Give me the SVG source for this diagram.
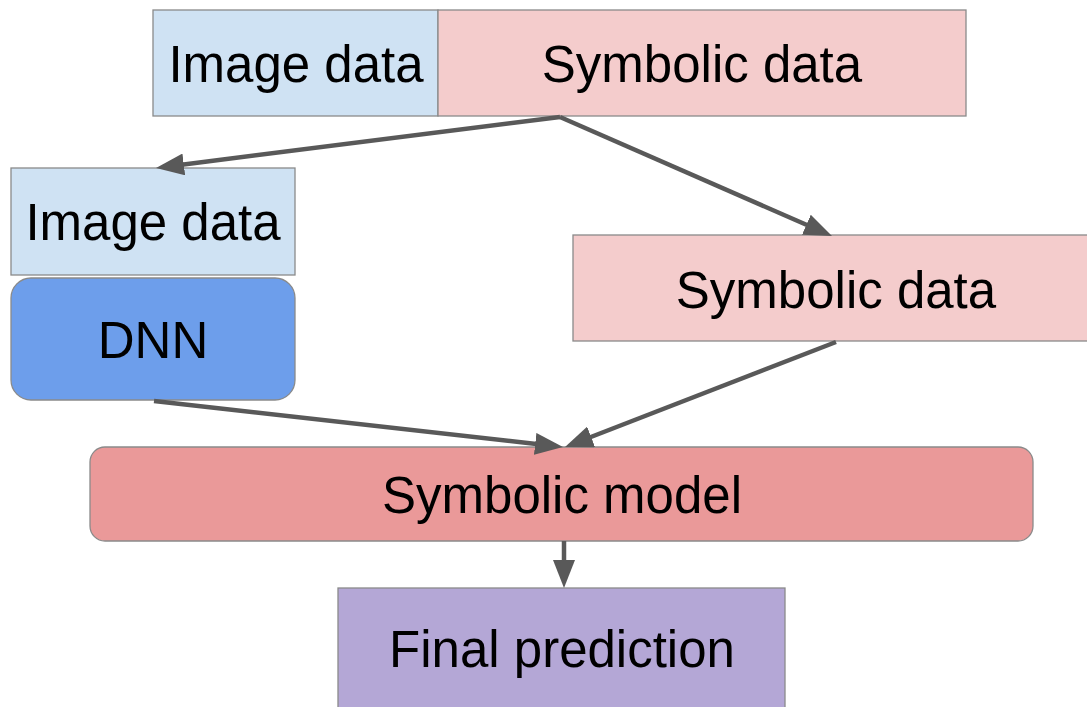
<svg xmlns="http://www.w3.org/2000/svg" width="1087" height="707" viewBox="0 0 1087 707">
  <style>
    .box { stroke: #8a8a8a; stroke-width: 1.3; }
    .img { fill: #cfe2f3; }
    .sym { fill: #f4cccc; }
    .dnn { fill: #6d9eeb; }
    .model { fill: #ea9999; }
    .final { fill: #b4a7d6; }
    .label { font-family: "Liberation Sans", Arial, sans-serif; font-size: 51px; fill: #000; text-anchor: middle; }
    .conn { stroke: #595959; stroke-width: 4.5; fill: none; marker-end: url(#arrow); }
  </style>
  <defs>
    <marker id="arrow" markerUnits="userSpaceOnUse" markerWidth="28" markerHeight="22" refX="10" refY="11" orient="auto">
      <path d="M0,0 L28,11 L0,22 z" fill="#595959"/>
    </marker>
  </defs>
  <rect width="1087" height="707" fill="#ffffff"/>

  <g id="top-image-data">
    <rect class="box img" x="153" y="10" width="285" height="106"/>
    <text class="label" x="296" y="82">Image data</text>
  </g>
  <g id="top-symbolic-data">
    <rect class="box sym" x="438" y="10" width="528" height="106"/>
    <text class="label" x="702" y="82">Symbolic data</text>
  </g>

  <g id="image-data">
    <rect class="box img" x="11" y="168" width="284" height="107"/>
    <text class="label" x="153" y="240">Image data</text>
  </g>
  <g id="dnn">
    <rect class="box dnn" x="11" y="278" width="284" height="122" rx="20" ry="20"/>
    <text class="label" x="153" y="358">DNN</text>
  </g>

  <g id="symbolic-data">
    <rect class="box sym" x="573" y="235" width="530" height="106"/>
    <text class="label" x="836" y="308">Symbolic data</text>
  </g>

  <g id="symbolic-model">
    <rect class="box model" x="90" y="447" width="943" height="94" rx="15" ry="15"/>
    <text class="label" x="562" y="513">Symbolic model</text>
  </g>

  <g id="final-prediction">
    <rect class="box final" x="338" y="588" width="447" height="130"/>
    <text class="label" x="562" y="667">Final prediction</text>
  </g>

  <g id="connectors">
    <line class="conn" x1="560" y1="117" x2="173.9" y2="165.7"/>
    <line class="conn" x1="560" y1="117" x2="815.5" y2="228.8"/>
    <line class="conn" x1="154" y1="401" x2="545.1" y2="445"/>
    <line class="conn" x1="836" y1="342" x2="581.8" y2="440.5"/>
    <line class="conn" x1="564" y1="541" x2="564" y2="570"/>
  </g>
</svg>
